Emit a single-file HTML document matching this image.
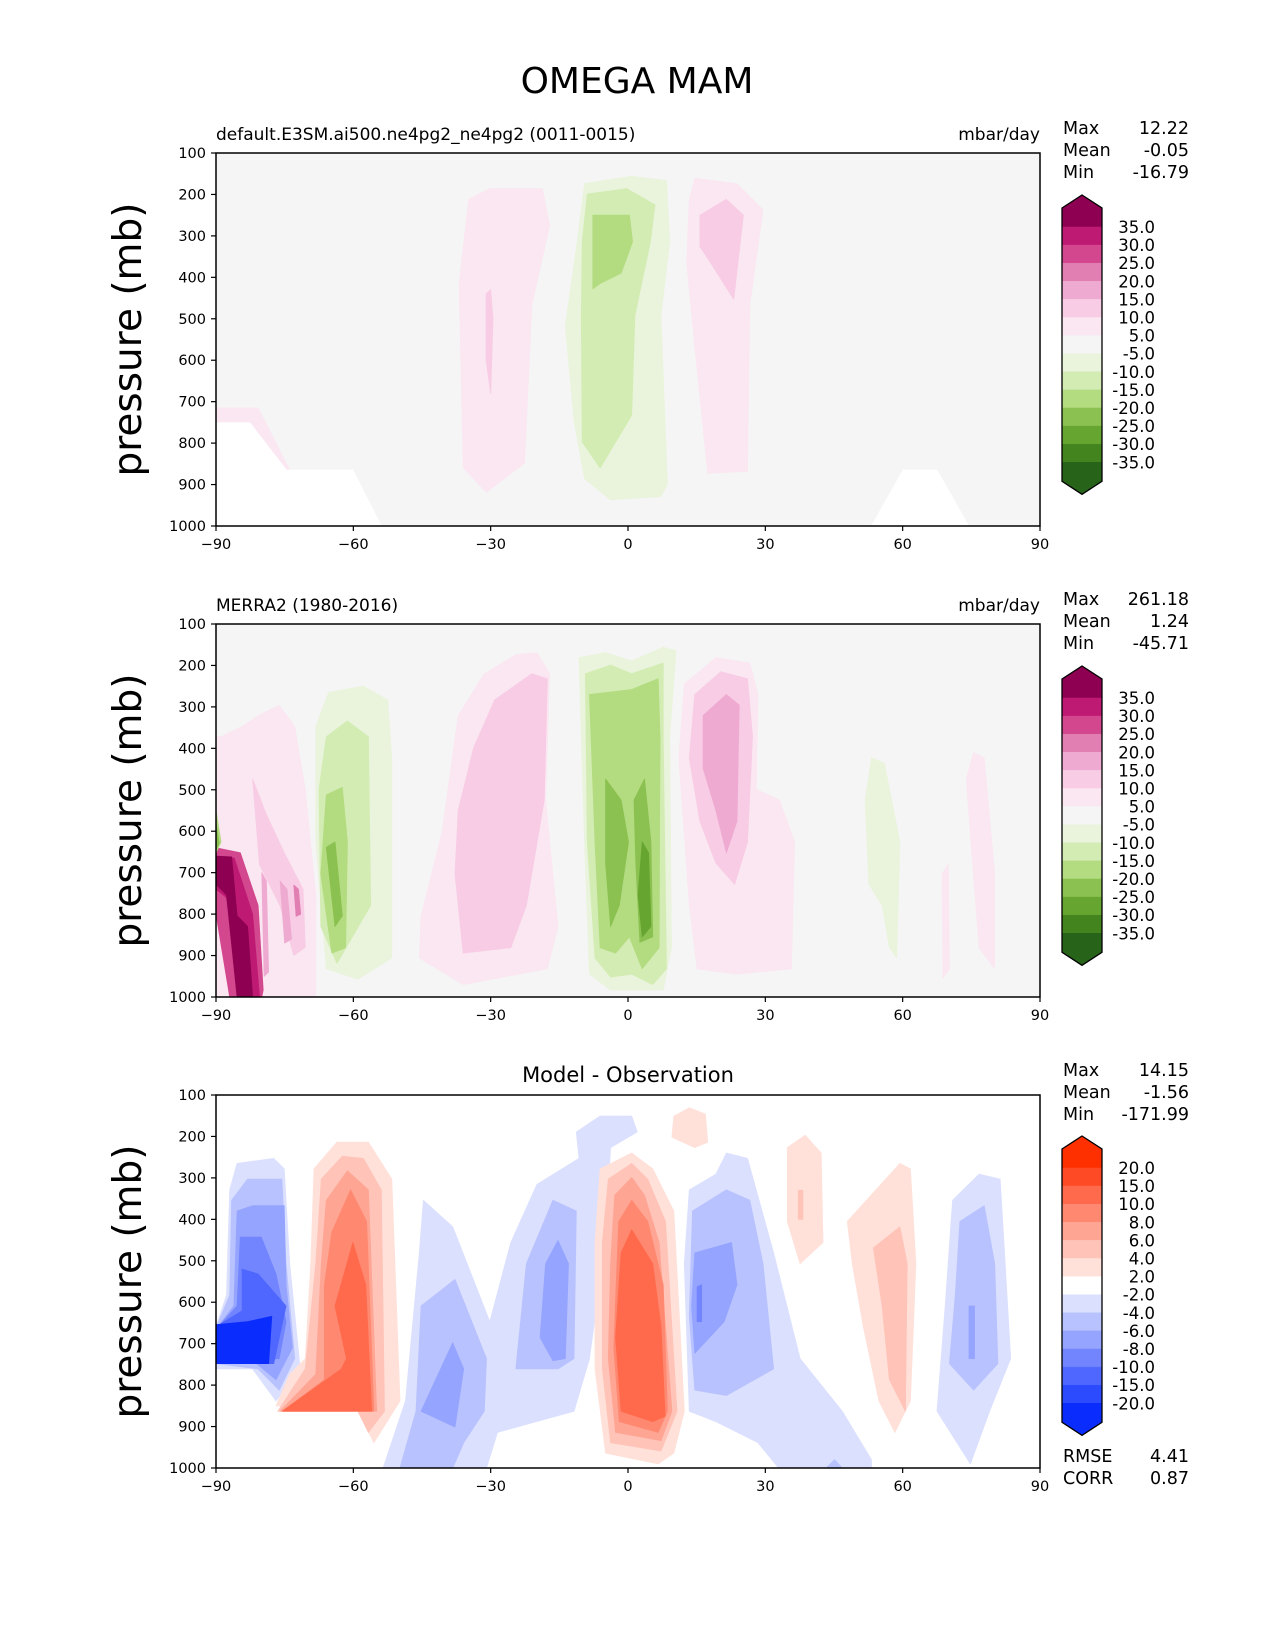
<!DOCTYPE html>
<html><head><meta charset="utf-8"><title>OMEGA MAM</title>
<style>html,body{margin:0;padding:0;background:#fff}svg{display:block;font-family:"DejaVu Sans","Liberation Sans",sans-serif}</style>
</head><body>
<svg id="fig" width="1275" height="1650" viewBox="0 0 1275 1650" xmlns="http://www.w3.org/2000/svg">
<text x="637" y="93" font-size="36" text-anchor="middle">OMEGA MAM</text>
<g id="layer"></g>
</svg>
<script>
// ---- data ----
const latTicks=[-90,-60,-30,0,30,60,90];
const presTicks=[100,200,300,400,500,600,700,800,900,1000];
const cbLabelsPiYG=['35.0','30.0','25.0','20.0','15.0','10.0','5.0','-5.0','-10.0','-15.0','-20.0','-25.0','-30.0','-35.0'];
const cbLabelsDiff=['20.0','15.0','10.0','8.0','6.0','4.0','2.0','-2.0','-4.0','-6.0','-8.0','-10.0','-15.0','-20.0'];
const colorsPiYG=['#8e0152','#bf1a73','#d3478e','#e17fb2','#eeaad1','#f7cce4','#fae7f1','#f5f5f5','#eaf4dd','#d3ecb3','#b3db80','#8bc150','#66a530','#44841f','#27641a'];
const colorsDiff=['#ff3000','#ff4a26','#ff6a4c','#ff8870','#ffa594','#ffc3b8','#ffe1da','#ffffff','#dbe0fe','#b8c2fe','#95a4fe','#7285fe','#4f67fe','#2c4afe','#0a2dfe'];
const statsModel=['12.22','-0.05','-16.79'];
const statsObs=['261.18','1.24','-45.71'];
const statsDiff=['14.15','-1.56','-171.99'];
const rmseCorr=['4.41','0.87'];
// contour regions: level (+/-), then [lat, pressure] pairs; level 'm' = missing data
const modelRegions=[
 [1,[[-34.8,212],[-30.2,186],[-18.7,186],[-17.1,275],[-21,466],[-22.6,848],[-30.9,919],[-36,860],[-36.9,415]]],
 [2,[[-31,440],[-30,430],[-29.5,500],[-30,680],[-31,600]]],
 [-1,[[-9.5,174],[0.8,156],[8.4,166],[9.1,314],[7.2,492],[8.6,899],[7.2,929],[-3.8,937],[-9.5,886],[-11.8,746],[-13.7,517],[-11.1,314]]],
 [-2,[[-8.9,199],[-0.3,186],[5.9,225],[4.9,314],[1.5,492],[0.8,733],[-6.1,860],[-10,797],[-10.2,492],[-10,314]]],
 [-3,[[-7.7,250],[0.3,250],[1,314],[-1.5,390],[-6.1,415],[-7.7,428],[-7.7,339]]],
 [1,[[14.6,161],[23.8,174],[29.5,237],[26.6,466],[26.1,868],[17.4,873],[14.6,568],[12.8,364],[13.4,212]]],
 [2,[[15.7,250],[21.5,212],[25.2,250],[23.1,453],[18,364],[15.7,326]]],
 [1,[[-90,715],[-80.8,715],[-73.9,865],[-76.2,865],[-82.6,751],[-90,751]]],
 ['m',[[-90,751],[-82.6,751],[-74.6,865],[-60.1,865],[-53.9,1000],[-90,1000]]],
 ['m',[[53.2,1000],[60.1,865],[67.5,865],[74.4,1000]]]
];
const obsRegions=[
 [1,[[-88.9,372],[-84.3,347],[-80.8,321],[-76.2,296],[-72.8,347],[-70.5,499],[-68.2,754],[-68.2,1000],[-90,1000],[-90,372]]],
 [2,[[-82,474],[-79,560],[-75.1,652],[-71,740],[-70.5,880],[-73,900],[-76,780],[-80.5,680]]],
 [3,[[-76,720],[-74.5,740],[-73.5,860],[-75,870]]],
 [4,[[-73,730],[-72,740],[-71.5,800],[-72.5,805]]],
 [3,[[-80,700],[-79,720],[-78.5,940],[-79.5,950]]],
 [5,[[-90,640],[-84.7,652],[-80.8,779],[-79.7,983],[-80,1000],[-87,1000],[-90,800]]],
 [6,[[-90,660],[-86,665],[-82,800],[-80.5,1000],[-84,1000],[-87.7,760],[-90,740]]],
 [7,[[-90,660],[-86.6,662],[-85.4,804],[-83.1,830],[-82,1000],[-85.4,1000],[-87.7,754],[-90,728]]],
 [-3,[[-90,550],[-88.9,626],[-90,652]]],
 [-4,[[-90,580],[-89.3,630],[-90,645]]],
 [-1,[[-68.2,347],[-65.4,265],[-57.8,250],[-52.5,283],[-51.6,423],[-51.6,906],[-59,957],[-65.9,932],[-68.2,626]]],
 [-2,[[-65.9,372],[-61.3,334],[-56.7,372],[-56.2,779],[-63.6,919],[-67.1,830],[-67.5,499]]],
 [-3,[[-65.9,512],[-62.4,494],[-61.3,626],[-61.7,881],[-64.7,894],[-67.1,703]]],
 [-4,[[-65.9,639],[-64,626],[-62.4,804],[-64,830]]],
 [1,[[-19.9,169],[-17.1,220],[-18,525],[-15.3,830],[-17.6,932],[-36,970],[-45.6,906],[-45.2,804],[-40.6,601],[-37.1,321],[-31.4,220],[-24.5,174]]],
 [2,[[-29.1,283],[-21,220],[-17.6,232],[-18.3,525],[-22.2,779],[-25.6,881],[-36,894],[-37.8,703],[-37.1,550],[-33.7,398]]],
 [-1,[[-10.7,181],[-4.9,169],[0.8,189],[7.7,156],[10.5,164],[9.1,372],[9.5,881],[7.7,983],[-3.8,983],[-8.4,945],[-9.5,626],[-10.2,372]]],
 [-2,[[-9.3,220],[-3.8,199],[0.8,220],[7.7,194],[7.7,372],[8.4,932],[5.4,970],[0.8,945],[-3.8,952],[-7.2,906],[-8.9,626]]],
 [-3,[[-8.4,270],[0.8,258],[6.6,232],[7,372],[6.8,881],[3.1,932],[0.3,855],[-2.7,894],[-6.1,881],[-7.2,626]]],
 [-4,[[-4.9,474],[-1.5,525],[0.1,626],[-1.9,779],[-3.8,830],[-4.9,677]]],
 [-4,[[1.3,525],[3.6,474],[5,626],[5.4,855],[2.6,868],[1.7,677]]],
 [-5,[[3.1,626],[4.5,652],[5,830],[3.1,855],[2.2,754]]],
 [1,[[12.3,245],[19.2,181],[26.6,194],[28.4,270],[28,499],[33.1,525],[36.4,626],[35.7,932],[23.8,945],[15.1,932],[13.4,779],[11.1,423]]],
 [2,[[14.6,270],[20.3,215],[26.1,232],[27.2,372],[26.1,626],[23.3,728],[19.2,677],[15.7,576],[13.4,423]]],
 [3,[[16.4,321],[21.5,270],[24.3,296],[23.8,576],[21.5,652],[19.2,550],[16.4,448]]],
 [-1,[[51.8,525],[53.2,423],[56,436],[59.4,626],[58.7,906],[57.1,881],[55.5,779],[52.6,728]]],
 [1,[[73.9,474],[75.5,410],[77.8,423],[80.1,703],[80.1,932],[76.7,881],[74.9,626]]],
 [1,[[68.6,703],[70,680],[70.2,932],[68.8,955]]]
];
const diffRegions=[
 [-1,[[-87,329],[-85.4,265],[-77.4,253],[-75.1,278],[-73.9,507],[-71.6,761],[-75.1,812],[-76.9,838],[-82,761],[-90,761],[-90,659],[-87.7,583]]],
 [-2,[[-86.6,354],[-83.1,303],[-75.6,303],[-74.7,507],[-72.8,736],[-76.2,812],[-80.8,761],[-90,748],[-90,662],[-87,583]]],
 [-3,[[-85.4,380],[-82,367],[-75.1,367],[-74.7,558],[-73.3,710],[-76.9,787],[-82,740],[-90,745],[-90,665],[-86.1,609]]],
 [-4,[[-84.7,443],[-80.1,443],[-76.9,532],[-74.7,647],[-76.2,736],[-82,740],[-90,745],[-90,665],[-85.4,609]]],
 [-5,[[-84.3,520],[-80.8,532],[-74.7,609],[-77.4,748],[-82,748],[-90,748],[-90,659],[-84.3,621]]],
 [-7,[[-90,654],[-83.1,647],[-77.8,634],[-78.5,748],[-82,748],[-90,748]]],
 [1,[[-68.6,278],[-63.6,214],[-56.7,214],[-51.6,303],[-49.8,838],[-55.5,939],[-57.8,888],[-59,863],[-76.9,850],[-73.9,774],[-70.5,736],[-69.3,507]]],
 [2,[[-67,303],[-62.4,248],[-57.8,253],[-53.9,329],[-53.2,863],[-56.7,914],[-59,863],[-76.5,863],[-70.5,761],[-68.2,507]]],
 [3,[[-65.9,354],[-61.3,283],[-56.7,329],[-54.9,863],[-76,863],[-68.2,774],[-67,507]]],
 [4,[[-64.7,431],[-60.6,329],[-57.1,405],[-55.5,863],[-75.5,863],[-66.3,787],[-66.3,558]]],
 [5,[[-64,609],[-60.1,456],[-57.3,558],[-56,863],[-75.5,863],[-62.6,761],[-61.5,736]]],
 [-1,[[-53.2,990],[-48.6,838],[-45.6,481],[-44.7,354],[-38.3,418],[-30.2,647],[-25.6,456],[-19.9,316],[-10.7,253],[-11.3,189],[-6.1,151],[0.8,151],[2,189],[-3.8,227],[-5,456],[-8.4,736],[-11.8,863],[-28.5,914],[-30.9,1000],[-53.5,1000]]],
 [-2,[[-49.8,1000],[-46.3,863],[-45.2,609],[-37.8,545],[-30.9,736],[-31.4,863],[-35.9,939],[-38.3,1000]]],
 [-3,[[-45.2,863],[-38.3,698],[-35.9,761],[-37.8,901]]],
 [-2,[[-24.5,761],[-22.2,507],[-16.4,354],[-11.3,380],[-11.8,736],[-15.3,761]]],
 [-3,[[-19.2,685],[-18,507],[-15.3,451],[-13,507],[-13.7,736],[-16.4,741]]],
 [1,[[-6.1,278],[0.8,240],[5.4,278],[10,380],[12.3,863],[10,964],[6.6,990],[-4.9,964],[-7.2,761],[-7.2,456]]],
 [2,[[-4.3,303],[0.8,265],[4.3,303],[8.2,405],[10.7,863],[7.2,959],[-3.8,939],[-5.6,761],[-5.6,456]]],
 [3,[[-2.9,342],[0.8,299],[3.6,342],[6.8,456],[9.6,863],[7.2,934],[-2.7,914],[-4.3,736],[-3.8,507]]],
 [4,[[-2,405],[0.8,354],[4.3,405],[7.7,558],[8.6,863],[6.6,914],[-1.9,888],[-3.1,710],[-2.5,532]]],
 [5,[[-1.5,481],[0.8,425],[5.4,507],[7.2,659],[8.1,875],[5.4,888],[-1.5,863],[-2.7,685]]],
 [1,[[10,151],[13.4,131],[16.9,146],[17.4,214],[14.6,227],[9.6,202]]],
 [-1,[[13.4,329],[19.2,291],[21.5,240],[26.1,253],[31.8,481],[37.6,736],[46.8,863],[53.2,980],[53.2,1000],[32.9,1000],[28.4,939],[19.2,888],[13.4,863],[12.3,507]]],
 [-2,[[14.1,380],[21.5,329],[26.6,354],[29.5,507],[31.8,761],[21.5,825],[14.6,812],[13.4,634]]],
 [-3,[[14.6,481],[22.6,456],[23.8,558],[21,647],[14.6,723],[13.9,609]]],
 [-4,[[15.1,563],[16.1,558],[16.1,647],[15.1,647]]],
 [-2,[[43.3,1000],[45.1,980],[46.8,1000]]],
 [1,[[34.8,227],[38.7,197],[42.2,240],[42.6,456],[37.6,507],[34.8,405]]],
 [2,[[37.2,330],[38.2,330],[38.2,400],[37.2,400]]],
 [1,[[47.9,405],[59.4,265],[61.7,278],[62.9,507],[61.7,838],[58.3,914],[54.8,838],[51.4,659],[49,507]]],
 [2,[[53.6,469],[59.4,418],[61,507],[60.6,863],[57.1,787],[55.5,609]]],
 [-1,[[70.9,354],[76.7,291],[81.3,303],[83.6,736],[79,863],[74.8,990],[67.5,863],[69.3,609]]],
 [-2,[[72.5,405],[77.8,367],[80.1,507],[80.8,748],[75.5,812],[70.2,748],[71.5,583]]],
 [-3,[[74.5,609],[75.7,609],[75.7,736],[74.5,736]]]
];
// ---- rendering ----
const NS='http://www.w3.org/2000/svg';
const layer=document.getElementById('layer');
const X0=216,X1=1040,PH=373;
function xs(lat){return X0+(lat+90)/180*(X1-X0);}
function mk(tag,attrs,parent){const e=document.createElementNS(NS,tag);for(const k in attrs)e.setAttribute(k,attrs[k]);(parent||layer).appendChild(e);return e;}
function panel(top,bg,regions,colors,title,titleMode,stats,cbLabels,cbTop,name){
  const ys=p=>top+(p-100)/900*PH;
  const g=mk('g',{});
  
  
  const bgr=mk('rect',{x:X0,y:top,width:X1-X0,height:PH,fill:bg},g);
  
  
  const clipId='c'+top;
  const cp=mk('clipPath',{id:clipId},g);mk('rect',{x:X0,y:top,width:X1-X0,height:PH},cp);
  const cg=mk('g',{'clip-path':'url(#'+clipId+')'},g);
  regions.forEach(r=>{
    const lvl=r[0];const col=lvl==='m'?'#ffffff':colors[7-lvl];
    const d='M'+r[1].map(q=>xs(q[0]).toFixed(1)+','+ys(q[1]).toFixed(1)).join('L')+'Z';
    const path=mk('path',{d:d,fill:col,stroke:col,'stroke-width':0.8,'stroke-linejoin':'round'},cg);
    
    
  });
  const fr=mk('rect',{x:X0,y:top,width:X1-X0,height:PH,fill:'none',stroke:'#000','stroke-width':1.5},g);
  
  
  presTicks.forEach(p=>{
    mk('line',{x1:X0-5,x2:X0,y1:ys(p),y2:ys(p),stroke:'#000','stroke-width':1.2},g);
    const t=mk('text',{x:X0-10,y:ys(p)+5,'font-size':14.5,'text-anchor':'end'},g);t.textContent=p;
    
    
  });
  latTicks.forEach(l=>{
    mk('line',{x1:xs(l),x2:xs(l),y1:top+PH,y2:top+PH+5,stroke:'#000','stroke-width':1.2},g);
    const t=mk('text',{x:xs(l),y:top+PH+23,'font-size':14.5,'text-anchor':'middle'},g);t.textContent=l<0?'\u2212'+(-l):l;
    
    
  });
  const yl=mk('text',{x:0,y:0,'font-size':39,'text-anchor':'middle',transform:'translate(141,'+(top+PH/2)+') rotate(-90)'},g);
  yl.textContent='pressure (mb)';
  
  
  if(titleMode==='sides'){
    const t1=mk('text',{x:X0,y:top-13,'font-size':17},g);t1.textContent=title;
    
    
    const t2=mk('text',{x:X1,y:top-13,'font-size':17,'text-anchor':'end'},g);t2.textContent='mbar/day';
    
    
  } else {
    const t1=mk('text',{x:(X0+X1)/2,y:top-13,'font-size':21,'text-anchor':'middle'},g);t1.textContent=title;
    
    
  }
  ['Max','Mean','Min'].forEach((lab,i)=>{
    const y=top-19+i*22;
    const a=mk('text',{x:1063,y:y,'font-size':17.5},g);a.textContent=lab;
    
    
    const b=mk('text',{x:1189,y:y,'font-size':17.5,'text-anchor':'end'},g);b.textContent=stats[i];
    
    
  });
  const cb=mk('g',{},g);
  
  
  const L=1062,R=1102,M=(L+R)/2,step=18.1;
  const b0=cbTop+32;
  for(let i=0;i<15;i++){
    let d;
    if(i===0) d=`M${L},${b0}L${L},${b0-19}L${M},${b0-32}L${R},${b0-19}L${R},${b0}Z`;
    else if(i===14){const yb=b0+13*step;d=`M${L},${yb}L${L},${yb+19}L${M},${yb+32}L${R},${yb+19}L${R},${yb}Z`;}
    else {const ya=b0+(i-1)*step;d=`M${L},${ya}L${R},${ya}L${R},${ya+step}L${L},${ya+step}Z`;}
    const s=mk('path',{d:d,fill:colors[i],stroke:colors[i],'stroke-width':0.5},cb);
    
    
  }
  const yb=b0+13*step;
  mk('path',{d:`M${L},${b0-19}L${M},${b0-32}L${R},${b0-19}L${R},${yb+19}L${M},${yb+32}L${L},${yb+19}Z`,fill:'none',stroke:'#000','stroke-width':1.3},cb);
  cbLabels.forEach((lab,i)=>{
    const t=mk('text',{x:1155,y:b0+i*step+6,'font-size':16.5,'text-anchor':'end'},cb);t.textContent=lab;
    
    
  });
  return g;
}
panel(153,'#f5f5f5',modelRegions,colorsPiYG,'default.E3SM.ai500.ne4pg2_ne4pg2 (0011-0015)','sides',statsModel,cbLabelsPiYG,195,'model-panel');
panel(624,'#f5f5f5',obsRegions,colorsPiYG,'MERRA2 (1980-2016)','sides',statsObs,cbLabelsPiYG,666,'observation-panel');
panel(1095,'#ffffff',diffRegions,colorsDiff,'Model - Observation','center',statsDiff,cbLabelsDiff,1136,'difference-panel');
['RMSE','CORR'].forEach((lab,i)=>{
  const y=1462+i*22;
  const a=mk('text',{x:1063,y:y,'font-size':17.5});a.textContent=lab;
  
  
  const b=mk('text',{x:1189,y:y,'font-size':17.5,'text-anchor':'end'});b.textContent=rmseCorr[i];
  
  
});
</script>
</body></html>
